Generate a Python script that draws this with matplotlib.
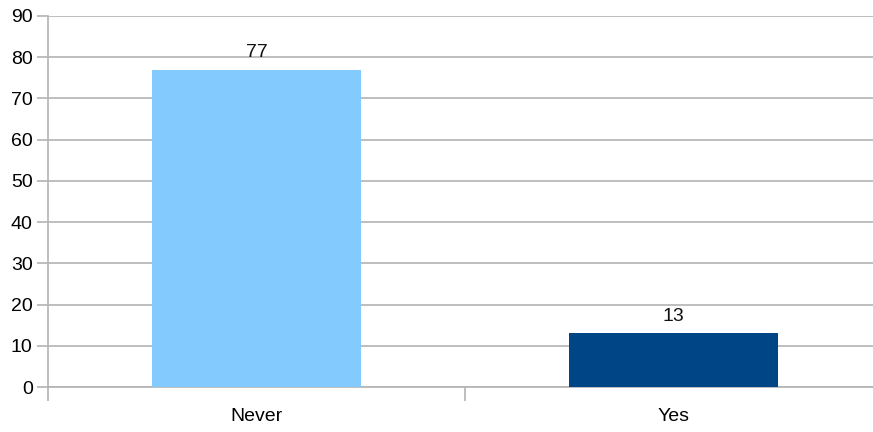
import matplotlib.pyplot as plt

categorias = ["Never", "Yes"]
valores = [77, 13]
colores = ["#83caff", "#004586"]

plt.rcParams['font.family'] = ['Liberation Sans', 'DejaVu Sans']

fig = plt.figure(figsize=(8.73, 4.32), dpi=100)
ax = fig.add_axes([48 / 873, 45 / 432, 834 / 873, 371 / 432])

x = range(len(categorias))
barras = ax.bar(x, valores, width=0.5, color=colores, zorder=3)
for b, v in zip(barras, valores):
    ax.text(b.get_x() + b.get_width() / 2, v + 2.0, str(v), ha='center', va='bottom',
            fontsize=14, color='#111111')

ax.set_xlim(-0.5, len(categorias) - 0.5)
ax.set_ylim(0, 90)
ax.set_yticks(range(0, 91, 10))
ax.yaxis.grid(True, color='#b3b3b3', linewidth=1.2, zorder=0)

# ticks del eje x en los limites entre categorias
ax.set_xticks([-0.5, 0.5, 1.5])
ax.set_xticklabels([])
ax.set_xticks(list(x), minor=True)
ax.set_xticklabels(categorias, minor=True)
ax.tick_params(axis='x', which='minor', length=0, pad=15, labelsize=14)
ax.tick_params(axis='x', which='major', length=10, color='#b3b3b3', width=1.2)
ax.tick_params(axis='y', length=8, color='#b3b3b3', width=1.2, labelsize=14, pad=3)

for s in ['top', 'right']:
    ax.spines[s].set_visible(False)
ax.spines['left'].set_color('#b3b3b3')
ax.spines['left'].set_linewidth(1.2)
ax.spines['left'].set_bounds(0, 90)
ax.spines['bottom'].set_color('#b3b3b3')
ax.spines['bottom'].set_linewidth(1.2)

plt.savefig('out.png', dpi=100)
